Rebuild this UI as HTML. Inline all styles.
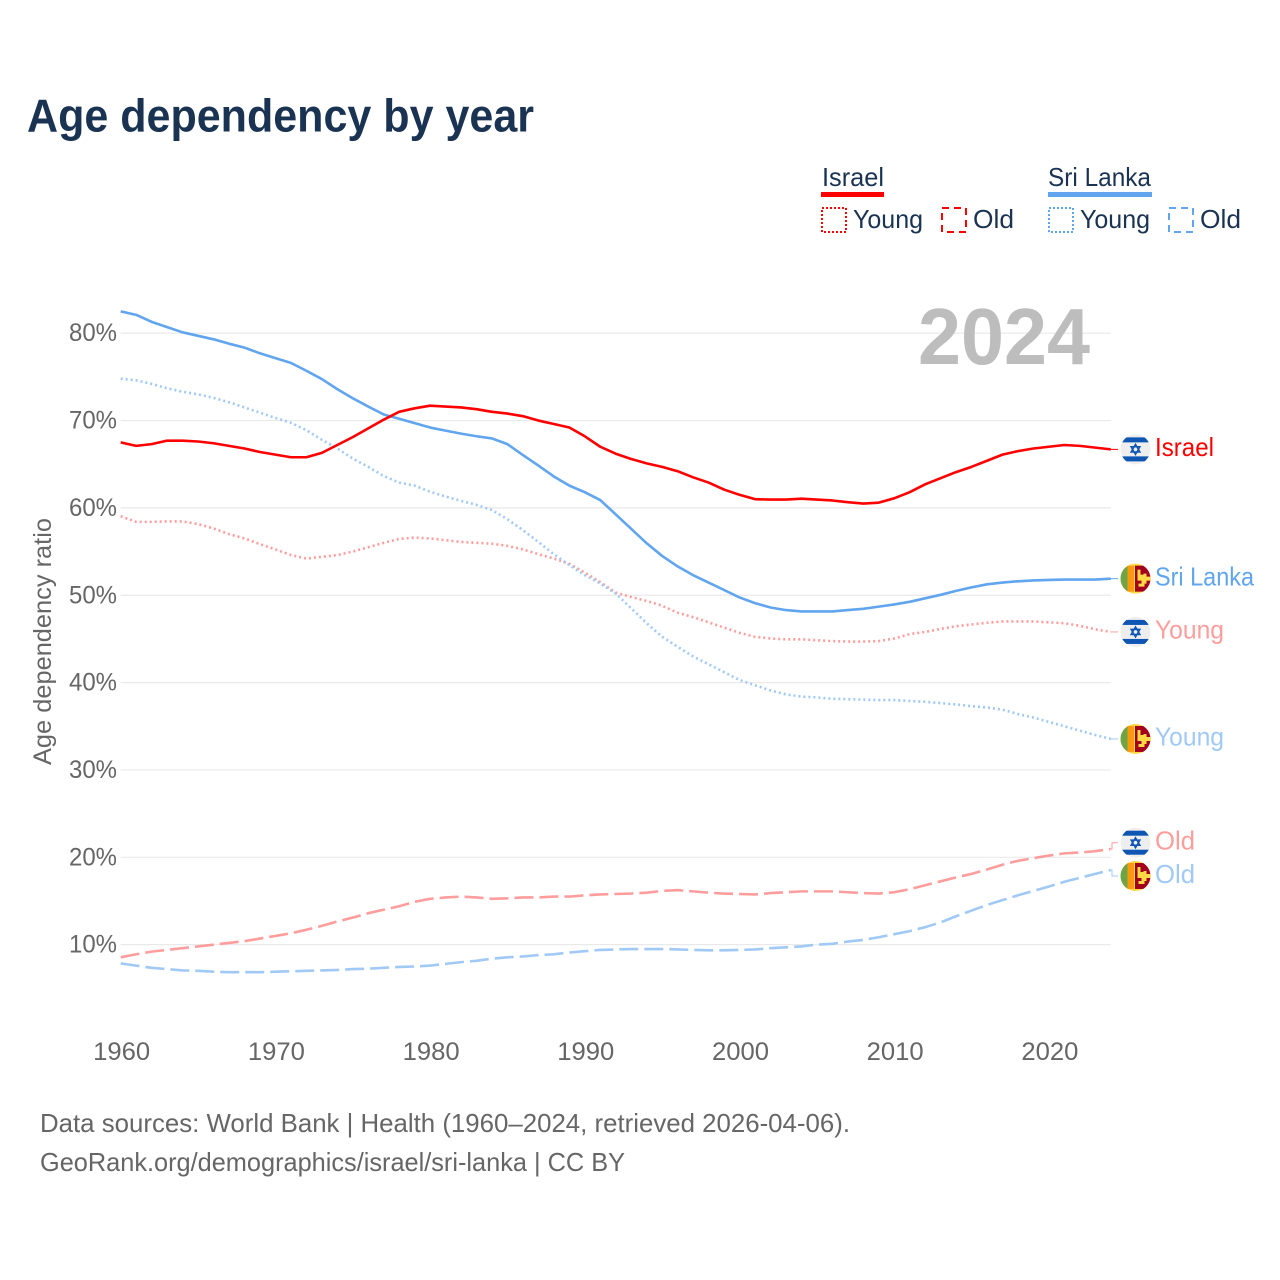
<!DOCTYPE html>
<html lang="en">
<head>
<meta charset="utf-8">
<title>Age dependency by year</title>
<style>
html,body{margin:0;padding:0;background:#fff;}
svg{display:block;font-family:"Liberation Sans",sans-serif;}
</style>
</head>
<body>
<svg id="chart" xmlns="http://www.w3.org/2000/svg" width="1280" height="1280" viewBox="0 0 1280 1280">
  <rect x="0" y="0" width="1280" height="1280" fill="#fff"/>
  <text x="27" y="131.5" font-size="46" font-weight="bold" fill="#1a3352" textLength="507" lengthAdjust="spacingAndGlyphs">Age dependency by year</text>

  <g font-size="26" fill="#1a3352">
    <text x="822" y="186" textLength="62" lengthAdjust="spacingAndGlyphs">Israel</text>
    <rect x="821" y="192" width="63" height="5" fill="#ff0000"/>
    <rect x="822" y="208" width="24" height="24" fill="none" stroke="#ff0000" stroke-width="2" stroke-dasharray="2 2"/>
    <text x="853" y="228" textLength="70" lengthAdjust="spacingAndGlyphs">Young</text>
    <rect x="942" y="208" width="24" height="24" fill="none" stroke="#ff0000" stroke-width="2" stroke-dasharray="7 5"/>
    <text x="973" y="228" textLength="41" lengthAdjust="spacingAndGlyphs">Old</text>
    <text x="1048" y="186" textLength="103" lengthAdjust="spacingAndGlyphs">Sri Lanka</text>
    <rect x="1048" y="192" width="104" height="5" fill="#60a5ee"/>
    <rect x="1049" y="208" width="24" height="24" fill="none" stroke="#60a5ee" stroke-width="2" stroke-dasharray="2 2"/>
    <text x="1080" y="228" textLength="70" lengthAdjust="spacingAndGlyphs">Young</text>
    <rect x="1169" y="208" width="24" height="24" fill="none" stroke="#60a5ee" stroke-width="2" stroke-dasharray="7 5"/>
    <text x="1200" y="228" textLength="41" lengthAdjust="spacingAndGlyphs">Old</text>
  </g>

  <g id="grid"></g>
  <text x="918" y="364" font-size="80" font-weight="bold" fill="#bdbdbd" textLength="172" lengthAdjust="spacingAndGlyphs">2024</text>
  <g id="yticks" font-size="25" fill="#666"></g>
  <g id="xticks" font-size="25" fill="#666"></g>
  <text transform="translate(51,765) rotate(-90)" x="0" y="0" font-size="25" fill="#666" textLength="247" lengthAdjust="spacingAndGlyphs">Age dependency ratio</text>
  <g id="series"></g>
  <g id="endlabels" font-size="26"></g>

  <g font-size="26" fill="#666">
    <text x="40" y="1132" textLength="810" lengthAdjust="spacingAndGlyphs">Data sources: World Bank | Health (1960–2024, retrieved 2026-04-06).</text>
    <text x="40" y="1171" textLength="585" lengthAdjust="spacingAndGlyphs">GeoRank.org/demographics/israel/sri-lanka | CC BY</text>
  </g>
</svg>

<script>
const firstYear = 1960;
const yTickValues = [10, 20, 30, 40, 50, 60, 70, 80];
const xTickValues = [1960, 1970, 1980, 1990, 2000, 2010, 2020];

const israelTotal = [67.5,67.1,67.3,67.7,67.7,67.6,67.4,67.1,66.8,66.4,66.1,65.8,65.8,66.3,67.2,68.1,69.1,70.1,71.0,71.4,71.7,71.6,71.5,71.3,71.0,70.8,70.5,70.0,69.6,69.2,68.2,67.0,66.2,65.6,65.1,64.7,64.2,63.5,62.9,62.1,61.5,61.0,60.95,60.95,61.05,60.95,60.85,60.65,60.5,60.6,61.1,61.8,62.7,63.4,64.1,64.7,65.4,66.1,66.5,66.8,67.0,67.2,67.1,66.9,66.7];
const sriLankaTotal = [82.5,82.1,81.3,80.7,80.1,79.7,79.3,78.8,78.35,77.7,77.15,76.6,75.7,74.75,73.6,72.55,71.6,70.7,70.2,69.7,69.2,68.85,68.5,68.2,67.95,67.3,66.05,64.85,63.6,62.55,61.8,60.9,59.25,57.6,55.95,54.5,53.3,52.3,51.45,50.6,49.75,49.1,48.6,48.3,48.15,48.15,48.15,48.3,48.45,48.7,48.95,49.25,49.65,50.05,50.5,50.9,51.25,51.45,51.6,51.7,51.75,51.8,51.8,51.8,51.9];
const israelYoung = [59.05,58.4,58.4,58.45,58.45,58.15,57.65,57.0,56.5,55.85,55.25,54.6,54.2,54.4,54.6,55.0,55.5,56.0,56.45,56.6,56.5,56.3,56.1,56.0,55.9,55.65,55.25,54.7,54.2,53.6,52.6,51.5,50.3,49.8,49.35,48.8,48.0,47.5,46.9,46.3,45.7,45.25,45.05,44.95,44.95,44.85,44.75,44.7,44.7,44.75,45.05,45.55,45.8,46.15,46.45,46.65,46.85,47.0,47.0,47.0,46.9,46.8,46.5,46.1,45.8];
const sriLankaYoung = [74.8,74.6,74.2,73.7,73.3,73.0,72.6,72.1,71.5,70.9,70.3,69.75,68.9,67.8,66.8,65.65,64.7,63.65,62.9,62.55,61.85,61.3,60.8,60.35,59.75,58.7,57.45,56.1,54.7,53.45,52.3,51.35,50.2,48.5,46.8,45.25,44.1,43.0,42.1,41.2,40.3,39.7,39.1,38.65,38.4,38.3,38.15,38.1,38.05,38.0,38.0,37.9,37.8,37.65,37.5,37.3,37.15,36.9,36.4,36.0,35.5,35.0,34.5,34.0,33.55];
const israelOld = [8.55,8.9,9.2,9.4,9.6,9.8,10.0,10.2,10.4,10.7,11.0,11.3,11.7,12.15,12.65,13.1,13.6,14.0,14.4,14.9,15.25,15.4,15.5,15.4,15.25,15.3,15.4,15.4,15.5,15.5,15.65,15.75,15.8,15.85,15.95,16.15,16.25,16.1,15.95,15.85,15.8,15.75,15.9,16.0,16.1,16.1,16.1,16.0,15.9,15.85,16.0,16.35,16.8,17.25,17.7,18.1,18.6,19.15,19.6,19.9,20.2,20.45,20.55,20.7,20.95];
const sriLankaOld = [7.85,7.6,7.35,7.2,7.05,7.0,6.9,6.85,6.85,6.85,6.9,6.95,7.0,7.05,7.1,7.2,7.25,7.35,7.45,7.5,7.6,7.8,8.0,8.15,8.4,8.55,8.65,8.8,8.9,9.1,9.25,9.4,9.45,9.5,9.5,9.5,9.45,9.4,9.35,9.35,9.4,9.45,9.6,9.7,9.8,10.0,10.1,10.35,10.55,10.85,11.2,11.55,12.0,12.55,13.25,13.9,14.55,15.1,15.65,16.15,16.65,17.2,17.65,18.1,18.55];

const NS = 'http://www.w3.org/2000/svg';
function xScale(year) { return 120.7 + (year - 1960) * 15.47; }
function yScale(v) { return 1032 - v * 8.735; }
const xEnd = xScale(2024);

function mk(tag, parent, attrs) {
  const el = document.createElementNS(NS, tag);
  for (const k in attrs) el.setAttribute(k, attrs[k]);
  parent.appendChild(el);
  return el;
}

const gridG = document.getElementById('grid');
const yG = document.getElementById('yticks');
const xG = document.getElementById('xticks');

yTickValues.forEach(function (v) {
  const line = mk('line', gridG, { x1: 120.7, x2: xEnd, y1: yScale(v), y2: yScale(v), stroke: '#e9e9e9', 'stroke-width': 1.2 });
  
  
  const t = mk('text', yG, { x: 69, y: yScale(v) + 8, textLength: 48, lengthAdjust: 'spacingAndGlyphs' });
  t.textContent = v + '%';
  
  
});

xTickValues.forEach(function (yr) {
  const t = mk('text', xG, { x: xScale(yr) + 1 - 28.5, y: 1060, textLength: 57, lengthAdjust: 'spacingAndGlyphs' });
  t.textContent = String(yr);
  
  
});

function drawIsraelFlag(g) {
  mk('circle', g, { cx: 0, cy: 0, r: 15, fill: '#eeeeee' });
  mk('rect', g, { x: -15, y: -12, width: 30, height: 5, fill: '#0f55b4', 'clip-path': 'url(#flag-clip)' });
  mk('rect', g, { x: -15, y: 7, width: 30, height: 5, fill: '#0f55b4', 'clip-path': 'url(#flag-clip)' });
  mk('polygon', g, { points: '0,-5 4.4,2.6 -4.4,2.6', fill: 'none', stroke: '#0f55b4', 'stroke-width': 1.5 });
  mk('polygon', g, { points: '0,5 4.4,-2.6 -4.4,-2.6', fill: 'none', stroke: '#0f55b4', 'stroke-width': 1.5 });
}

function drawSriLankaFlag(g) {
  mk('circle', g, { cx: 0, cy: 0, r: 15, fill: '#ffda44' });
  mk('rect', g, { x: -15, y: -15, width: 7, height: 30, fill: '#6da544', 'clip-path': 'url(#flag-clip)' });
  mk('rect', g, { x: -8, y: -13, width: 6.5, height: 26, fill: '#ff9811', 'clip-path': 'url(#flag-clip)' });
  mk('rect', g, { x: -0.5, y: -13, width: 16, height: 26, fill: '#a2001d', 'clip-path': 'url(#flag-clip)' });
  mk('path', g, { d: 'M2,-9 h3 v5 h3 v-1 h3 v3 h4 v4 h-4 v3 h-2 v3 h-6 v-3 h3 v-3 h-4 z', fill: '#ffda44', 'clip-path': 'url(#flag-clip)' });
}

const defs = mk('defs', document.getElementById('chart'), {});
const clip = mk('clipPath', defs, { id: 'flag-clip' });
mk('circle', clip, { cx: 0, cy: 0, r: 15 });

const seriesG = document.getElementById('series');
const endG = document.getElementById('endlabels');

function pathFor(values) {
  return values.map(function (v, i) {
    return (i ? 'L' : 'M') + xScale(firstYear + i).toFixed(2) + ',' + yScale(v).toFixed(2);
  }).join(' ');
}

function drawSeries(name, values, color, dash, labelText, labelWidth, labelDodge, flagFn) {
  const p = mk('path', seriesG, { d: pathFor(values), fill: 'none', stroke: color, 'stroke-width': 2.6, 'stroke-linejoin': 'round' });
  if (dash) p.setAttribute('stroke-dasharray', dash);
  
  

  const endY = yScale(values[values.length - 1]);
  const labelY = endY + labelDodge;
  const c = mk('path', endG, { d: 'M' + xEnd + ',' + endY + ' H1112 V' + labelY + ' H1118', fill: 'none', stroke: color, 'stroke-width': 1 });
  
  

  const g = mk('g', endG, { transform: 'translate(1135.5,' + labelY + ')' });
  
  
  flagFn(g);

  const t = mk('text', endG, { x: 1155, y: labelY + 6.8, fill: color, textLength: labelWidth, lengthAdjust: 'spacingAndGlyphs' });
  t.textContent = labelText;
  
  
}

drawSeries('israel-old', israelOld, '#ff9d9d', '19 6', 'Old', 40, -6.3, drawIsraelFlag);
drawSeries('sri-lanka-old', sriLankaOld, '#a0c9f5', '19 6', 'Old', 40, 6, drawSriLankaFlag);
drawSeries('israel-young', israelYoung, '#ff9d9d', '2 3', 'Young', 69, 0, drawIsraelFlag);
drawSeries('sri-lanka-young', sriLankaYoung, '#a0c9f5', '2 3', 'Young', 69, 0, drawSriLankaFlag);
drawSeries('sri-lanka-total', sriLankaTotal, '#60a5ee', '', 'Sri Lanka', 99, 0, drawSriLankaFlag);
drawSeries('israel-total', israelTotal, '#ff0000', '', 'Israel', 59, 0, drawIsraelFlag);
</script>
</body>
</html>
